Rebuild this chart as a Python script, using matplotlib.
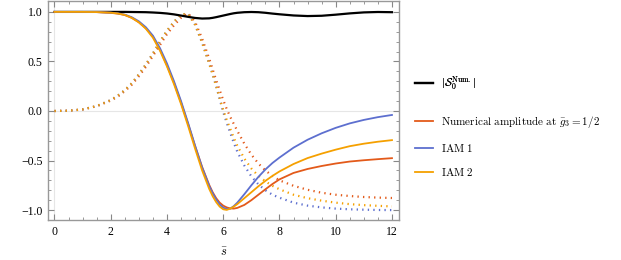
import matplotlib
matplotlib.use('Agg')
import matplotlib.pyplot as plt
import numpy as np

plt.rcParams['mathtext.fontset'] = 'cm'
plt.rcParams['font.family'] = ['Liberation Serif', 'DejaVu Serif']

s = [0, 0.5, 1, 1.5, 2, 2.25, 2.5, 2.75, 3, 3.25, 3.5, 3.75, 4, 4.25, 4.5, 4.75, 5, 5.25, 5.5,
     5.625, 5.75, 5.875, 6, 6.125, 6.25, 6.375, 6.5, 6.75, 7, 7.25, 7.5, 7.75, 8, 8.5, 9, 9.5,
     10, 10.5, 11, 11.5, 12]

# |S_0^Num.|
abs_num = [1, 1, 1, 1, 1, 1, 1, 0.999, 0.998, 0.997, 0.994, 0.99, 0.984, 0.975, 0.963, 0.95, 0.939, 0.933, 0.935,
           0.94, 0.947, 0.955, 0.963, 0.971, 0.979, 0.986, 0.991, 0.997, 0.999, 0.997, 0.991, 0.983, 0.976, 0.964, 0.958, 0.961,
           0.972, 0.985, 0.995, 0.999, 0.997]

# real parts (solid)
re_num = [1, 1, 1, 0.998, 0.99, 0.983, 0.968, 0.94, 0.895, 0.835, 0.75, 0.62, 0.46, 0.285, 0.085, -0.13, -0.355, -0.565, -0.745,
          -0.82, -0.88, -0.925, -0.955, -0.973, -0.983, -0.985, -0.978, -0.948, -0.9, -0.845, -0.79, -0.737, -0.69, -0.625, -0.585, -0.555,
          -0.53, -0.51, -0.497, -0.486, -0.476]
re_iam1 = [1, 1, 1, 0.998, 0.993, 0.986, 0.973, 0.946, 0.905, 0.845, 0.76, 0.635, 0.48, 0.30, 0.10, -0.12, -0.35, -0.57, -0.755,
           -0.83, -0.893, -0.943, -0.975, -0.99, -0.985, -0.96, -0.925, -0.84, -0.75, -0.665, -0.59, -0.525, -0.47, -0.37, -0.29, -0.225,
           -0.17, -0.125, -0.09, -0.062, -0.04]
re_iam2 = [1, 1, 1, 0.998, 0.992, 0.984, 0.97, 0.94, 0.895, 0.83, 0.74, 0.61, 0.45, 0.27, 0.07, -0.15, -0.38, -0.60, -0.785,
           -0.86, -0.92, -0.965, -0.992, -0.998, -0.985, -0.965, -0.94, -0.88, -0.82, -0.76, -0.705, -0.655, -0.61, -0.535, -0.475, -0.43,
           -0.39, -0.355, -0.33, -0.31, -0.294]

# imaginary parts (dotted)
im_num = [0, 0.003, 0.015, 0.048, 0.105, 0.145, 0.2, 0.265, 0.35, 0.445, 0.555, 0.665, 0.775, 0.865, 0.94, 0.985, 0.9, 0.73, 0.53,
          0.42, 0.31, 0.21, 0.11, 0.02, -0.06, -0.13, -0.2, -0.33, -0.44, -0.53, -0.6, -0.655, -0.7, -0.755, -0.795, -0.825,
          -0.845, -0.858, -0.868, -0.874, -0.878]
im_iam1 = [0, 0.003, 0.016, 0.05, 0.11, 0.155, 0.21, 0.28, 0.37, 0.47, 0.58, 0.7, 0.81, 0.9, 0.97, 0.985, 0.87, 0.69, 0.48,
           0.37, 0.25, 0.12, -0.01, -0.12, -0.22, -0.32, -0.41, -0.55, -0.66, -0.74, -0.8, -0.845, -0.875, -0.925, -0.955, -0.973,
           -0.985, -0.992, -0.996, -0.999, -1.0]
im_iam2 = [0, 0.003, 0.016, 0.05, 0.11, 0.155, 0.21, 0.28, 0.37, 0.47, 0.58, 0.7, 0.81, 0.9, 0.975, 0.98, 0.87, 0.69, 0.48,
           0.37, 0.25, 0.13, 0.01, -0.09, -0.18, -0.27, -0.35, -0.48, -0.58, -0.655, -0.71, -0.755, -0.79, -0.845, -0.88, -0.905,
           -0.925, -0.94, -0.95, -0.957, -0.963]

c_num = '#E35A1A'
c_iam1 = '#5D6FCF'
c_iam2 = '#F5A000'

fig = plt.figure(figsize=(6.21, 2.60), dpi=100)
ax = fig.add_axes([48/621, 1 - 220/260, 351/621, 219/260])

ax.axhline(0, color='#e6e6e6', lw=0.8, zorder=0)
ax.axvline(0, color='#e6e6e6', lw=0.8, zorder=0)

dots = (0, (0.6, 1.9))
ax.plot(s, im_num, color=c_num, lw=1.6, ls=dots)
ax.plot(s, im_iam1, color=c_iam1, lw=1.6, ls=dots)
ax.plot(s, im_iam2, color=c_iam2, lw=1.6, ls=dots)

l0, = ax.plot(s, abs_num, color='black', lw=1.6)
l1, = ax.plot(s, re_num, color=c_num, lw=1.3)
l2, = ax.plot(s, re_iam1, color=c_iam1, lw=1.3)
l3, = ax.plot(s, re_iam2, color=c_iam2, lw=1.3)

ax.set_xlim(-0.23, 12.25)
ax.set_ylim(-1.1, 1.11)
ax.set_xticks([0, 2, 4, 6, 8, 10, 12])
ax.set_yticks([-1.0, -0.5, 0.0, 0.5, 1.0])
ax.set_yticklabels(['\u22121.0', '\u22120.5', '0.0', '0.5', '1.0'])
ax.set_xticks(np.arange(0, 12.01, 0.5), minor=True)
ax.set_yticks(np.arange(-1.0, 1.01, 0.1), minor=True)
ax.tick_params(which='both', direction='in', top=True, right=True, color='#888888', labelsize=8.5)
ax.tick_params(which='major', length=4, width=0.8, pad=4)
ax.tick_params(which='minor', length=2, width=0.6)
for sp in ax.spines.values():
    sp.set_color('#999999')
    sp.set_linewidth(1.0)

ax.set_xlabel(r'$\bar{s}$', fontsize=9, labelpad=6)

leg_kw = dict(loc='center left', frameon=False, fontsize=8, handlelength=1.6,
              handletextpad=0.7, borderpad=0, borderaxespad=0)
leg1 = fig.legend([l0], [r'$|\mathcal{S}_0^{\mathrm{Num.}}|$'],
                  bbox_to_anchor=(415/621, 1 - 83/260), **leg_kw)
fig.add_artist(leg1)
fig.legend([l1, l2, l3],
           [r'$\mathrm{Numerical\ amplitude\ at\ }\bar{g}_3=1/2$', r'$\mathrm{IAM\ 1}$', r'$\mathrm{IAM\ 2}$'],
           bbox_to_anchor=(415/621, 1 - 146/260), labelspacing=1.1, **leg_kw)

fig.savefig('out.png', dpi=100)
